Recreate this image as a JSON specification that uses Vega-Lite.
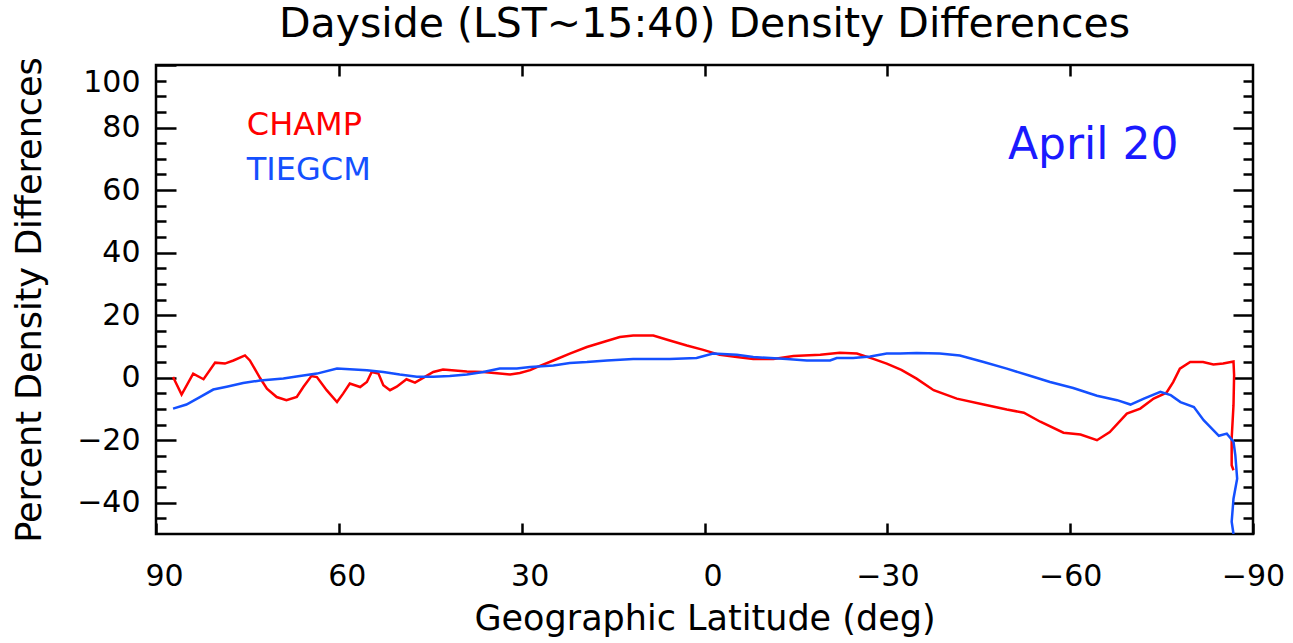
{
  "$schema": "https://vega.github.io/schema/vega-lite/v6.json",
  "width": 1097,
  "height": 469,
  "autosize": {"type": "none"},
  "padding": {"left": 156, "top": 65, "right": 40, "bottom": 109},
  "background": "white",
  "config": {
    "font": "DejaVu Sans",
    "view": {"stroke": "black", "strokeWidth": 2.5},
    "axis": {"grid": false, "domain": false, "tickColor": "black", "tickWidth": 2.5, "labelColor": "black", "titleColor": "black", "labelFont": "DejaVu Sans", "titleFont": "DejaVu Sans", "titleFontWeight": "normal", "labelFontSize": 30, "titleFontSize": 35, "labelOverlap": false, "labelFlush": false, "labelBound": false}
  },
  "title": {"text": "Dayside (LST~15:40) Density Differences", "fontSize": 41, "font": "DejaVu Sans", "fontWeight": "normal", "anchor": "middle", "offset": 11, "color": "black"},
  "datasets": {
    "curves": [
      {"s":"CHAMP","i":0,"lat":87.2,"val":0.2},{"s":"CHAMP","i":1,"lat":85.8,"val":-5.4},{"s":"CHAMP","i":2,"lat":83.9,"val":1.3},{"s":"CHAMP","i":3,"lat":82.2,"val":-0.5},{"s":"CHAMP","i":4,"lat":80.3,"val":4.8},{"s":"CHAMP","i":5,"lat":78.7,"val":4.5},{"s":"CHAMP","i":6,"lat":77.3,"val":5.5},{"s":"CHAMP","i":7,"lat":75.4,"val":7.1},{"s":"CHAMP","i":8,"lat":74.6,"val":5.5},{"s":"CHAMP","i":9,"lat":72.9,"val":-0.2},
      {"s":"CHAMP","i":10,"lat":71.8,"val":-3.5},{"s":"CHAMP","i":11,"lat":70.2,"val":-6.2},{"s":"CHAMP","i":12,"lat":68.6,"val":-7.2},{"s":"CHAMP","i":13,"lat":66.9,"val":-6.2},{"s":"CHAMP","i":14,"lat":65.8,"val":-2.9},{"s":"CHAMP","i":15,"lat":64.5,"val":0.5},{"s":"CHAMP","i":16,"lat":63.6,"val":0.2},{"s":"CHAMP","i":17,"lat":62.0,"val":-4.0},{"s":"CHAMP","i":18,"lat":60.3,"val":-7.8},{"s":"CHAMP","i":19,"lat":59.3,"val":-5.1},
      {"s":"CHAMP","i":20,"lat":58.2,"val":-1.9},{"s":"CHAMP","i":21,"lat":56.5,"val":-3.0},{"s":"CHAMP","i":22,"lat":55.4,"val":-1.4},{"s":"CHAMP","i":23,"lat":54.6,"val":1.8},{"s":"CHAMP","i":24,"lat":53.5,"val":1.3},{"s":"CHAMP","i":25,"lat":52.7,"val":-2.4},{"s":"CHAMP","i":26,"lat":51.6,"val":-4.0},{"s":"CHAMP","i":27,"lat":50.5,"val":-2.9},{"s":"CHAMP","i":28,"lat":48.9,"val":-0.5},{"s":"CHAMP","i":29,"lat":47.5,"val":-1.6},
      {"s":"CHAMP","i":30,"lat":46.1,"val":0},{"s":"CHAMP","i":31,"lat":44.5,"val":1.8},{"s":"CHAMP","i":32,"lat":42.9,"val":2.6},{"s":"CHAMP","i":33,"lat":39.0,"val":2.0},{"s":"CHAMP","i":34,"lat":36.3,"val":1.8},{"s":"CHAMP","i":35,"lat":33.6,"val":1.3},{"s":"CHAMP","i":36,"lat":31.9,"val":1.0},{"s":"CHAMP","i":37,"lat":30.3,"val":1.5},{"s":"CHAMP","i":38,"lat":28.6,"val":2.4},{"s":"CHAMP","i":39,"lat":27.5,"val":3.4},
      {"s":"CHAMP","i":40,"lat":24.8,"val":5.5},{"s":"CHAMP","i":41,"lat":22.1,"val":7.7},{"s":"CHAMP","i":42,"lat":19.3,"val":9.8},{"s":"CHAMP","i":43,"lat":16.6,"val":11.4},{"s":"CHAMP","i":44,"lat":13.9,"val":13.0},{"s":"CHAMP","i":45,"lat":11.7,"val":13.5},{"s":"CHAMP","i":46,"lat":8.4,"val":13.5},{"s":"CHAMP","i":47,"lat":5.7,"val":11.9},{"s":"CHAMP","i":48,"lat":2.9,"val":10.3},{"s":"CHAMP","i":49,"lat":0.2,"val":8.9},
      {"s":"CHAMP","i":50,"lat":-2.5,"val":7.3},{"s":"CHAMP","i":51,"lat":-5.3,"val":6.6},{"s":"CHAMP","i":52,"lat":-8.0,"val":6.0},{"s":"CHAMP","i":53,"lat":-11.3,"val":6.0},{"s":"CHAMP","i":54,"lat":-14.6,"val":6.9},{"s":"CHAMP","i":55,"lat":-19.0,"val":7.3},{"s":"CHAMP","i":56,"lat":-22.2,"val":8.0},{"s":"CHAMP","i":57,"lat":-25.0,"val":7.7},{"s":"CHAMP","i":58,"lat":-27.7,"val":6.0},{"s":"CHAMP","i":59,"lat":-29.9,"val":4.5},
      {"s":"CHAMP","i":60,"lat":-32.3,"val":2.5},{"s":"CHAMP","i":61,"lat":-34.8,"val":-0.3},{"s":"CHAMP","i":62,"lat":-37.6,"val":-4.0},{"s":"CHAMP","i":63,"lat":-41.4,"val":-6.7},{"s":"CHAMP","i":64,"lat":-45.8,"val":-8.6},{"s":"CHAMP","i":65,"lat":-49.6,"val":-10.2},{"s":"CHAMP","i":66,"lat":-52.4,"val":-11.2},{"s":"CHAMP","i":67,"lat":-55.1,"val":-14.1},{"s":"CHAMP","i":68,"lat":-58.9,"val":-17.6},{"s":"CHAMP","i":69,"lat":-61.7,"val":-18.2},
      {"s":"CHAMP","i":70,"lat":-64.4,"val":-20.0},{"s":"CHAMP","i":71,"lat":-66.5,"val":-17.4},{"s":"CHAMP","i":72,"lat":-69.3,"val":-11.5},{"s":"CHAMP","i":73,"lat":-71.5,"val":-9.9},{"s":"CHAMP","i":74,"lat":-73.7,"val":-6.7},{"s":"CHAMP","i":75,"lat":-75.8,"val":-4.8},{"s":"CHAMP","i":76,"lat":-76.9,"val":-1.4},{"s":"CHAMP","i":77,"lat":-78.0,"val":2.9},{"s":"CHAMP","i":78,"lat":-79.7,"val":5.0},{"s":"CHAMP","i":79,"lat":-81.8,"val":5.0},
      {"s":"CHAMP","i":80,"lat":-83.5,"val":4.2},{"s":"CHAMP","i":81,"lat":-85.1,"val":4.5},{"s":"CHAMP","i":82,"lat":-86.8,"val":5.2},{"s":"CHAMP","i":83,"lat":-86.9,"val":0.8},{"s":"CHAMP","i":84,"lat":-86.8,"val":-8.8},{"s":"CHAMP","i":85,"lat":-86.5,"val":-19.5},{"s":"CHAMP","i":86,"lat":-86.5,"val":-28.0},{"s":"CHAMP","i":87,"lat":-86.8,"val":-29.6},
      {"s":"TIEGCM","i":0,"lat":87.2,"val":-9.9},{"s":"TIEGCM","i":1,"lat":85.0,"val":-8.6},{"s":"TIEGCM","i":2,"lat":82.8,"val":-6.2},{"s":"TIEGCM","i":3,"lat":80.6,"val":-3.8},{"s":"TIEGCM","i":4,"lat":78.4,"val":-2.9},{"s":"TIEGCM","i":5,"lat":75.7,"val":-1.7},{"s":"TIEGCM","i":6,"lat":72.9,"val":-0.9},{"s":"TIEGCM","i":7,"lat":69.1,"val":-0.3},{"s":"TIEGCM","i":8,"lat":66.4,"val":0.5},{"s":"TIEGCM","i":9,"lat":63.6,"val":1.3},
      {"s":"TIEGCM","i":10,"lat":60.3,"val":2.9},{"s":"TIEGCM","i":11,"lat":58.2,"val":2.7},{"s":"TIEGCM","i":12,"lat":55.4,"val":2.4},{"s":"TIEGCM","i":13,"lat":52.7,"val":1.8},{"s":"TIEGCM","i":14,"lat":50.0,"val":1.0},{"s":"TIEGCM","i":15,"lat":47.2,"val":0.3},{"s":"TIEGCM","i":16,"lat":44.5,"val":0.3},{"s":"TIEGCM","i":17,"lat":41.8,"val":0.5},{"s":"TIEGCM","i":18,"lat":39.0,"val":1.0},{"s":"TIEGCM","i":19,"lat":36.3,"val":1.8},
      {"s":"TIEGCM","i":20,"lat":33.6,"val":2.9},{"s":"TIEGCM","i":21,"lat":30.8,"val":2.9},{"s":"TIEGCM","i":22,"lat":28.6,"val":3.4},{"s":"TIEGCM","i":23,"lat":24.8,"val":3.9},{"s":"TIEGCM","i":24,"lat":22.1,"val":4.7},{"s":"TIEGCM","i":25,"lat":19.3,"val":5.0},{"s":"TIEGCM","i":26,"lat":16.0,"val":5.5},{"s":"TIEGCM","i":27,"lat":11.7,"val":6.0},{"s":"TIEGCM","i":28,"lat":5.7,"val":6.0},{"s":"TIEGCM","i":29,"lat":1.3,"val":6.3},
      {"s":"TIEGCM","i":30,"lat":-1.4,"val":7.7},{"s":"TIEGCM","i":31,"lat":-5.3,"val":7.3},{"s":"TIEGCM","i":32,"lat":-8.0,"val":6.6},{"s":"TIEGCM","i":33,"lat":-13.5,"val":6.0},{"s":"TIEGCM","i":34,"lat":-16.8,"val":5.5},{"s":"TIEGCM","i":35,"lat":-20.6,"val":5.5},{"s":"TIEGCM","i":36,"lat":-21.7,"val":6.3},{"s":"TIEGCM","i":37,"lat":-24.4,"val":6.3},{"s":"TIEGCM","i":38,"lat":-27.2,"val":6.8},{"s":"TIEGCM","i":39,"lat":-29.9,"val":7.7},
      {"s":"TIEGCM","i":40,"lat":-32.1,"val":7.7},{"s":"TIEGCM","i":41,"lat":-34.8,"val":7.9},{"s":"TIEGCM","i":42,"lat":-38.6,"val":7.7},{"s":"TIEGCM","i":43,"lat":-41.9,"val":7.1},{"s":"TIEGCM","i":44,"lat":-45.8,"val":5.0},{"s":"TIEGCM","i":45,"lat":-49.6,"val":2.9},{"s":"TIEGCM","i":46,"lat":-53.4,"val":0.6},{"s":"TIEGCM","i":47,"lat":-56.7,"val":-1.4},{"s":"TIEGCM","i":48,"lat":-60.5,"val":-3.3},{"s":"TIEGCM","i":49,"lat":-64.4,"val":-5.8},
      {"s":"TIEGCM","i":50,"lat":-67.7,"val":-7.2},{"s":"TIEGCM","i":51,"lat":-69.9,"val":-8.6},{"s":"TIEGCM","i":52,"lat":-72.1,"val":-6.7},{"s":"TIEGCM","i":53,"lat":-74.8,"val":-4.5},{"s":"TIEGCM","i":54,"lat":-76.5,"val":-5.6},{"s":"TIEGCM","i":55,"lat":-78.1,"val":-7.8},{"s":"TIEGCM","i":56,"lat":-80.3,"val":-9.4},{"s":"TIEGCM","i":57,"lat":-81.9,"val":-13.6},{"s":"TIEGCM","i":58,"lat":-84.4,"val":-18.6},{"s":"TIEGCM","i":59,"lat":-85.7,"val":-17.9},
      {"s":"TIEGCM","i":60,"lat":-86.8,"val":-20.5},{"s":"TIEGCM","i":61,"lat":-87.1,"val":-24.8},{"s":"TIEGCM","i":62,"lat":-87.4,"val":-32.3},{"s":"TIEGCM","i":63,"lat":-86.8,"val":-38.7},{"s":"TIEGCM","i":64,"lat":-86.5,"val":-46.1},{"s":"TIEGCM","i":65,"lat":-86.8,"val":-50}
    ],
    "labels": [
      {"s":"CHAMP","label":"CHAMP","lat":75.1,"val":80.8},
      {"s":"TIEGCM","label":"TIEGCM","lat":75.1,"val":66.5}
    ],
    "date": [
      {"label":"April 20","lat":-49.8,"val":74.2}
    ]
  },
  "resolve": {"axis": {"x": "independent", "y": "independent"}},
  "layer": [
    {
      "data": {"name": "curves"},
      "mark": {"type": "line", "strokeWidth": 2.5, "clip": true},
      "encoding": {
        "x": {"field": "lat", "type": "quantitative", "scale": {"domain": [90, -90], "nice": false, "zero": false},
          "axis": {"orient": "bottom", "values": [90, 60, 30, 0, -30, -60, -90], "format": "d", "tickSize": -11, "labelPadding": 38,
            "labelOffset": {"condition": {"test": "datum.value >= 0", "value": 8}, "value": 0},
            "title": "Geographic Latitude (deg)", "titlePadding": 10}},
        "y": {"field": "val", "type": "quantitative", "scale": {"domain": [-50, 100], "nice": false, "zero": false},
          "axis": {"orient": "left", "values": [-45,-40,-35,-30,-25,-20,-15,-10,-5,0,5,10,15,20,25,30,35,40,45,50,55,60,65,70,75,80,85,90,95,100],
            "format": "d",
            "tickSize": {"condition": {"test": "datum.value % 20 === 0", "value": -20}, "value": -10},
            "labelExpr": "datum.value % 20 === 0 ? datum.label : ''",
            "labelPadding": 36,
            "labelOffset": {"condition": {"test": "datum.value === 100", "value": 17}, "value": 0},
            "title": "Percent Density Differences", "titlePadding": 29}},
        "color": {"field": "s", "type": "nominal", "scale": {"domain": ["CHAMP", "TIEGCM"], "range": ["#ff0000", "#1450ff"]}, "legend": null},
        "order": {"field": "i", "type": "quantitative"}
      }
    },
    {
      "mark": {"type": "rule", "color": "black", "strokeWidth": 1.5},
      "encoding": {
        "y": {"datum": 0, "type": "quantitative",
          "axis": {"orient": "right", "values": [-45,-40,-35,-30,-25,-20,-15,-10,-5,0,5,10,15,20,25,30,35,40,45,50,55,60,65,70,75,80,85,90,95],
            "tickSize": {"condition": {"test": "datum.value % 20 === 0", "value": -20}, "value": -10},
            "labels": false, "title": null}}
      }
    },
    {
      "data": {"name": "labels"},
      "mark": {"type": "text", "align": "left", "baseline": "middle", "fontSize": 32, "font": "DejaVu Sans"},
      "encoding": {
        "x": {"field": "lat", "type": "quantitative",
          "axis": {"orient": "top", "values": [60, 30, 0, -30, -60], "tickSize": -11, "labels": false, "title": null}},
        "y": {"field": "val", "type": "quantitative", "axis": null},
        "text": {"field": "label"},
        "color": {"field": "s", "type": "nominal", "legend": null}
      }
    },
    {
      "data": {"name": "date"},
      "mark": {"type": "text", "align": "left", "baseline": "middle", "fontSize": 44, "font": "DejaVu Sans", "color": "#1a1aff"},
      "encoding": {
        "x": {"field": "lat", "type": "quantitative", "axis": null},
        "y": {"field": "val", "type": "quantitative", "axis": null},
        "text": {"field": "label"}
      }
    }
  ]
}
